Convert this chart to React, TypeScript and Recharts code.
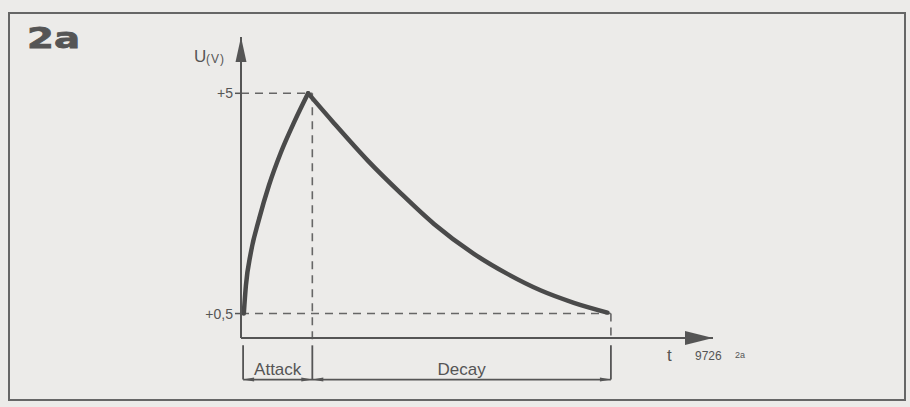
import { LineChart, Line, XAxis, YAxis, ReferenceLine, ReferenceDot } from 'recharts'

// envelope: time in arbitrary units, voltage in V
const attackT = [0.4, 0.7, 1.4, 2.6, 4, 5.7, 7.6, 9.6]
const attackV = [0.5, 1.07, 1.74, 2.44, 3.12, 3.79, 4.41, 5]
const decayT = [9.6, 13.3, 18.1, 22.9, 27.6, 33.3, 38.1, 42.9, 47.6, 52.4]
const decayV = [5, 4.39, 3.63, 2.95, 2.33, 1.72, 1.31, 0.97, 0.72, 0.52]

const yTicks = [0.5, 5]
const yTickLabels = ['+0,5', '+5']
const phaseNames = ['Attack', 'Decay']
const phaseBounds = [0.3, 10.2, 52.9]
const peakT = 9.6

const X_MAX = 67.5
const Y_MAX = 6.15
const BRACKET_TOP = -0.15
const BRACKET_Y = -0.85
const LABEL_Y = -0.75

const INK = '#555'
const FONT = '"Liberation Sans", Arial, sans-serif'

const attackData = attackT.map((t, i) => ({ t, v: attackV[i] }))
const decayData = decayT.map((t, i) => ({ t, v: decayV[i] }))

const dash = { stroke: '#666', strokeWidth: 1.6, strokeDasharray: '8 6' }
const solid = { stroke: INK, strokeWidth: 1.8 }

function YArrow({ cx, cy }: any) {
  return (
    <g>
      <polygon points={`${cx},${cy} ${cx - 5.5},${cy + 25} ${cx + 5.5},${cy + 25}`} fill={INK} />
      <text x={cx - 47} y={cy + 25} fill={INK} fontFamily={FONT} fontSize={17}>U</text>
      <text x={cx - 35} y={cy + 26} fill={INK} fontFamily={FONT} fontSize={12} letterSpacing={1}>(V)</text>
    </g>
  )
}

function XArrow({ cx, cy }: any) {
  return (
    <g>
      <polygon points={`${cx},${cy} ${cx - 28},${cy - 7} ${cx - 28},${cy + 7}`} fill={INK} />
      <text x={cx - 46} y={cy + 23} fill={INK} fontFamily={FONT} fontSize={17}>t</text>
      <text x={cx - 18} y={cy + 22} fill={INK} fontFamily={FONT} fontSize={12}>9726</text>
      <text x={cx + 22} y={cy + 20} fill={INK} fontFamily={FONT} fontSize={9}>2a</text>
    </g>
  )
}

function tip(dir: number) {
  return ({ cx, cy }: any) => (
    <polygon points={`${cx},${cy} ${cx - dir * 11},${cy - 2} ${cx - dir * 11},${cy + 2}`} fill={INK} />
  )
}

function phaseLabel(name: string) {
  return ({ cx, cy }: any) => (
    <text x={cx} y={cy} textAnchor="middle" fill={INK} fontFamily={FONT} fontSize={17}>{name}</text>
  )
}

function YTick({ x, y, payload }: any) {
  const i = yTicks.indexOf(payload.value)
  return (
    <text x={x} y={y + 5} textAnchor="end" fill={INK} fontFamily={FONT} fontSize={14}>
      {yTickLabels[i]}
    </text>
  )
}

export default function App() {
  return (
    <div style={{ position: 'absolute', left: 0, top: 0, width: 910, height: 407, background: '#ecebe9', overflow: 'hidden' }}>
      <div style={{ position: 'absolute', left: 8, top: 12, width: 894, height: 385, border: '2px solid #666' }} />
      <svg style={{ position: 'absolute', left: 0, top: 0 }} width={910} height={407}>
        <text x={27} y={48} fill={INK} fontFamily='"DejaVu Sans", sans-serif' fontWeight={900} fontSize={28}
          textLength={53} lengthAdjust="spacingAndGlyphs" stroke={INK} strokeWidth={0.8}>2a</text>
      </svg>
      <LineChart width={910} height={407} margin={{ top: 37, right: 197, bottom: 39, left: 201 }}
        style={{ position: 'absolute', left: 0, top: 0 }}>
        <XAxis type="number" dataKey="t" domain={[0, X_MAX]} allowDataOverflow height={30}
          tick={false} tickLine={false} axisLine={{ stroke: INK, strokeWidth: 2 }} />
        <YAxis type="number" domain={[0, Y_MAX]} allowDataOverflow width={40} ticks={yTicks}
          tick={<YTick />} tickSize={6} tickLine={{ stroke: INK, strokeWidth: 1.5 }}
          axisLine={{ stroke: INK, strokeWidth: 2 }} />

        <ReferenceLine segment={[{ x: 0, y: 5 }, { x: phaseBounds[1], y: 5 }]} ifOverflow="visible" {...dash} />
        <ReferenceLine segment={[{ x: 0, y: 0.5 }, { x: phaseBounds[2], y: 0.5 }]} ifOverflow="visible" {...dash} />
        <ReferenceLine segment={[{ x: phaseBounds[1], y: 5 }, { x: phaseBounds[1], y: BRACKET_TOP }]} ifOverflow="visible" {...dash} />
        <ReferenceLine segment={[{ x: phaseBounds[2], y: 0.5 }, { x: phaseBounds[2], y: 0 }]} ifOverflow="visible" {...dash} />

        {phaseBounds.map((b) => (
          <ReferenceLine key={'v' + b} segment={[{ x: b, y: BRACKET_TOP }, { x: b, y: BRACKET_Y }]} ifOverflow="visible" {...solid} />
        ))}
        <ReferenceLine segment={[{ x: phaseBounds[0], y: BRACKET_Y }, { x: phaseBounds[2], y: BRACKET_Y }]} ifOverflow="visible" {...solid} />
        {phaseNames.map((n, i) => (
          <g key={n}>
            <ReferenceDot x={phaseBounds[i]} y={BRACKET_Y} ifOverflow="visible" shape={tip(-1)} />
            <ReferenceDot x={phaseBounds[i + 1]} y={BRACKET_Y} ifOverflow="visible" shape={tip(1)} />
            <ReferenceDot x={(phaseBounds[i] + phaseBounds[i + 1]) / 2} y={LABEL_Y} ifOverflow="visible" shape={phaseLabel(n)} />
          </g>
        ))}

        <Line data={attackData} dataKey="v" type="monotone" stroke="#4a4a4a" strokeWidth={4.5}
          strokeLinecap="round" dot={false} isAnimationActive={false} />
        <Line data={decayData} dataKey="v" type="monotone" stroke="#4a4a4a" strokeWidth={4.5}
          strokeLinecap="round" dot={false} isAnimationActive={false} />

        <ReferenceDot x={0} y={Y_MAX} ifOverflow="visible" shape={<YArrow />} />
        <ReferenceDot x={X_MAX} y={0} ifOverflow="visible" shape={<XArrow />} />
      </LineChart>
    </div>
  )
}
